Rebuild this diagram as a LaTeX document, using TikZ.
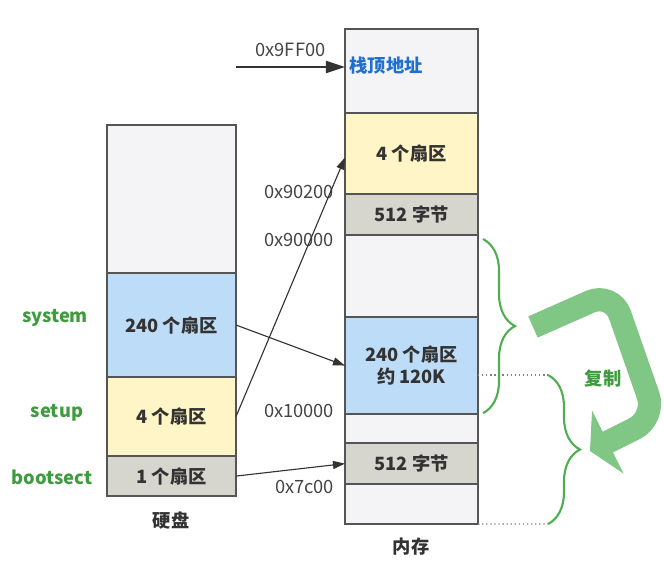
\documentclass[tikz,border=0pt]{standalone}
\usepackage{xcolor}
\usepackage{fontspec}
\setmainfont{Noto Sans CJK SC}
\usepackage{tikz}
\usetikzlibrary{arrows.meta,positioning,calc,decorations.pathreplacing}

\definecolor{edgegray}{HTML}{555555}
\definecolor{txtgray}{HTML}{333333}
\definecolor{hexgray}{HTML}{444444}
\definecolor{emptyfill}{HTML}{F4F4F6}
\definecolor{sysfill}{HTML}{BDDCF7}
\definecolor{setupfill}{HTML}{FFF5C6}
\definecolor{bootfill}{HTML}{D6D6CE}
\definecolor{tagGreen}{HTML}{3E9B3E}
\definecolor{braceGreen}{HTML}{4FAE50}
\definecolor{copyGreen}{HTML}{80C684}
\definecolor{spBlue}{HTML}{1F6FCF}

\begin{document}
\begin{tikzpicture}[x=0.025cm, y=-0.025cm,
  every node/.style={font=\fontsize{13pt}{15.5pt}\selectfont},
  cell/.style={rectangle, draw=edgegray, line width=1pt, outer sep=0pt, inner sep=0pt, align=center, text=txtgray, font=\fontsize{13pt}{15.5pt}\selectfont\bfseries},
  diskcell/.style={cell, minimum width=3.225cm},
  memcell/.style={cell, minimum width=3.325cm},
  hexlabel/.style={anchor=east, text=hexgray},
  tag/.style={text=tagGreen, font=\fontsize{13pt}{15.5pt}\selectfont\bfseries},
  caption/.style={text=txtgray, font=\fontsize{13pt}{15.5pt}\selectfont\bfseries},
  link/.style={-{Triangle[length=0.3cm, width=0.2cm]}, line width=0.8pt, draw=txtgray},
  bracegreen/.style={decorate, decoration={brace, amplitude=0.8cm}, line width=1.5pt, draw=braceGreen},
  guide/.style={dotted, line width=0.9pt, draw=gray}]
\useasboundingbox (0,0) rectangle (664,565);

\node[diskcell, fill=emptyfill, minimum height=3.7cm] (disktop) at (171.5,199) {};
\node[diskcell, fill=sysfill, minimum height=2.6cm, below=0pt of disktop] (system) {240 个扇区};
\node[diskcell, fill=setupfill, minimum height=1.975cm, below=0pt of system] (setup) {4 个扇区};
\node[diskcell, fill=bootfill, minimum height=1cm, below=0pt of setup] (bootsect) {1 个扇区};
\node[caption] (disk) at (171,520) {硬盘};

\node[tag] (systag) at (55,318) {system};
\node[tag] (setuptag) at (57,413) {setup};
\node[tag] (boottag) at (52,477) {bootsect};

\node[memcell, fill=emptyfill, minimum height=2.1cm] (stacktop) at (411.5,71) {};
\node[memcell, fill=setupfill, minimum height=2.025cm, below=0pt of stacktop] (setupmem) {4 个扇区};
\node[memcell, fill=bootfill, minimum height=1.025cm, below=0pt of setupmem] (bootnew) {512 字节};
\node[memcell, fill=emptyfill, minimum height=2.05cm, below=0pt of bootnew] (freemem) {};
\node[memcell, fill=sysfill, minimum height=2.425cm, below=0pt of freemem] (sysmem) {240 个扇区\\约 120K};
\node[memcell, fill=emptyfill, minimum height=0.725cm, below=0pt of sysmem] (gapmem) {};
\node[memcell, fill=bootfill, minimum height=1.025cm, below=0pt of gapmem] (bootmem) {512 字节};
\node[memcell, fill=emptyfill, minimum height=1cm, below=0pt of bootmem] (lowmem) {};
\node[caption] (mem) at (411,547) {内存};

\node[anchor=west, inner sep=3pt, text=spBlue, font=\fontsize{13pt}{15.5pt}\selectfont\bfseries] (sptext) at ($(stacktop.west)+(0,-5)$) {栈顶地址};
\coordinate (spin) at (236,67);
\draw[-{Triangle[length=0.475cm, width=0.3cm]}, line width=1.4pt, draw=txtgray] (spin) -- node[above=3pt, text=hexgray] (a9ff00) {0x9FF00} (spin -| stacktop.west);

\node[hexlabel] (a90200) at (339,192) {0x90200};
\node[hexlabel] (a90000) at (339,240) {0x90000};
\node[hexlabel] (a10000) at (339,411) {0x10000};
\node[hexlabel] (a7c00) at (339,487) {0x7c00};

\draw[link] (setup.east) -- ($(setupmem.west)+(0,4)$);
\draw[link] (system.east) -- (sysmem.west);
\draw[link] (bootsect.east) -- (bootmem.west);

\coordinate (cptop) at (548,375);
\coordinate (cpbot) at (548,524);
\draw[guide] (sysmem.east |- cptop) -- (cptop);
\draw[guide] (lowmem.south east) -- (cpbot);
\draw[bracegreen] ($(freemem.north east)+(5,4)$) -- ($(sysmem.south east)+(5,-1)$);
\draw[bracegreen] (cptop) -- (cpbot);

\draw[-{Triangle[length=0.5cm, width=1.75cm]}, line width=0.58cm, draw=copyGreen, rounded corners=0.6cm] (533,327) -- (612,292) -- (656,418) -- (590,451);
\node[tag] (copytag) at (603,379) {复制};
\end{tikzpicture}
\end{document}
